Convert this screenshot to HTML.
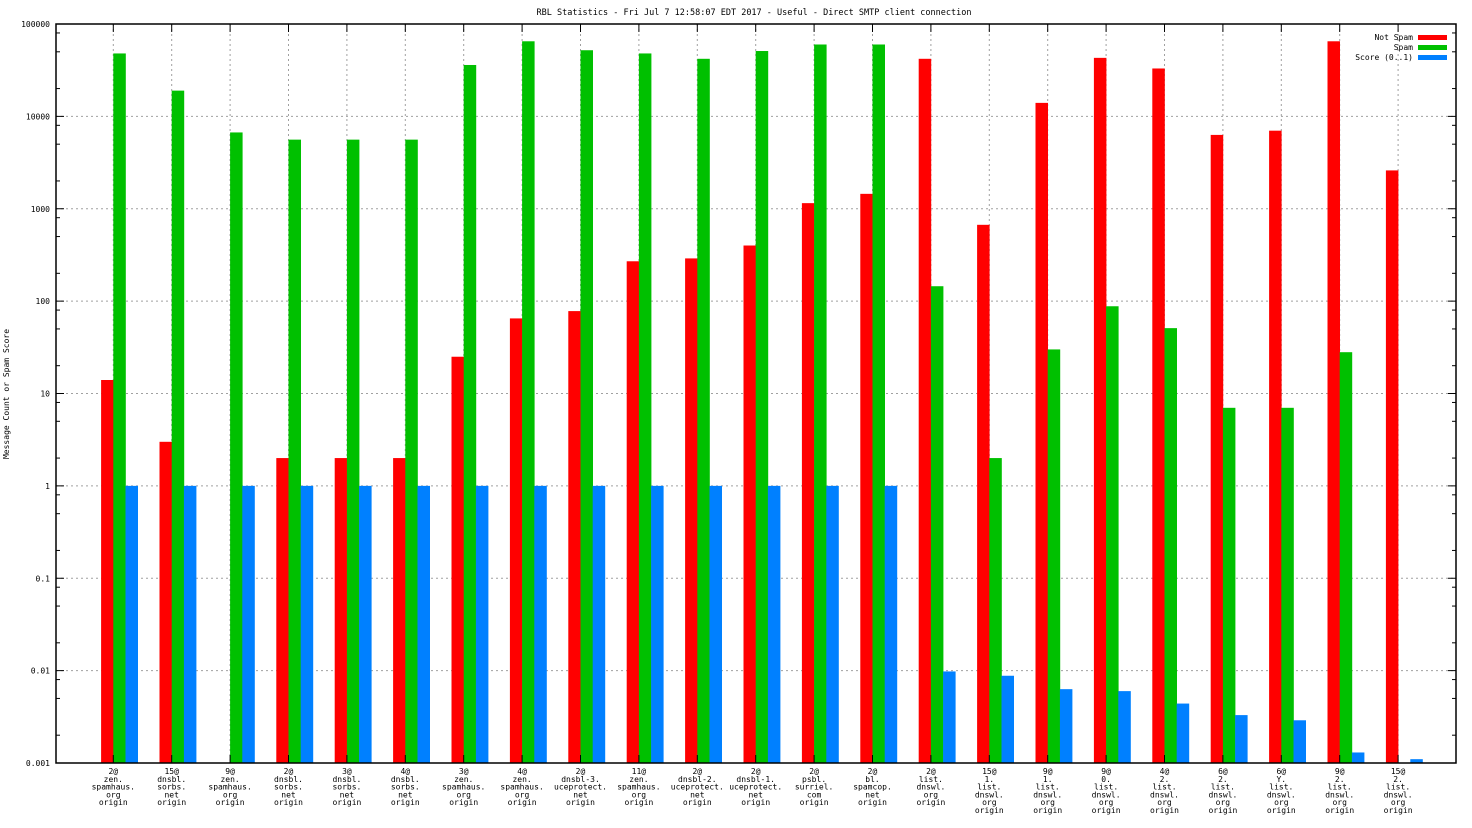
<!DOCTYPE html>
<html><head><meta charset="utf-8"><style>
html,body{margin:0;padding:0;background:#fff;}
svg{display:block;font-family:"DejaVu Sans Mono","Liberation Mono",monospace;}
</style></head><body>
<svg id="chart" width="1472" height="828" viewBox="0 0 1472 828" xmlns="http://www.w3.org/2000/svg">
<text x="754" y="15" font-size="8.5" text-anchor="middle">RBL Statistics - Fri Jul  7 12:58:07 EDT 2017 - Useful - Direct SMTP client connection</text>
<text transform="translate(9,394) rotate(-90)" font-size="8" text-anchor="middle">Message Count or Spam Score</text>
<g id="grid"></g>
<g id="bars"></g>
<g id="axes"></g>
<g font-size="8">
<text x="1413" y="40" text-anchor="end">Not Spam</text>
<rect x="1418" y="35" width="29" height="5" fill="#ff0000"/>
<text x="1413" y="50" text-anchor="end">Spam</text>
<rect x="1418" y="45" width="29" height="5" fill="#00c000"/>
<text x="1413" y="60" text-anchor="end">Score (0..1)</text>
<rect x="1418" y="55" width="29" height="5" fill="#0080ff"/>
</g>
</svg>
<script>
const categories = [
 ["2@","zen.","spamhaus.","org","origin"],
 ["15@","dnsbl.","sorbs.","net","origin"],
 ["9@","zen.","spamhaus.","org","origin"],
 ["2@","dnsbl.","sorbs.","net","origin"],
 ["3@","dnsbl.","sorbs.","net","origin"],
 ["4@","dnsbl.","sorbs.","net","origin"],
 ["3@","zen.","spamhaus.","org","origin"],
 ["4@","zen.","spamhaus.","org","origin"],
 ["2@","dnsbl-3.","uceprotect.","net","origin"],
 ["11@","zen.","spamhaus.","org","origin"],
 ["2@","dnsbl-2.","uceprotect.","net","origin"],
 ["2@","dnsbl-1.","uceprotect.","net","origin"],
 ["2@","psbl.","surriel.","com","origin"],
 ["2@","bl.","spamcop.","net","origin"],
 ["2@","list.","dnswl.","org","origin"],
 ["15@","1.","list.","dnswl.","org","origin"],
 ["9@","1.","list.","dnswl.","org","origin"],
 ["9@","0.","list.","dnswl.","org","origin"],
 ["4@","2.","list.","dnswl.","org","origin"],
 ["6@","2.","list.","dnswl.","org","origin"],
 ["6@","Y.","list.","dnswl.","org","origin"],
 ["9@","2.","list.","dnswl.","org","origin"],
 ["15@","2.","list.","dnswl.","org","origin"]
];
const notSpam = [14,3,null,2,2,2,25,65,78,270,290,400,1150,1450,42000,670,14000,43000,33000,6300,7000,65000,2600];
const spam = [48000,19000,6700,5600,5600,5600,36000,65000,52000,48000,42000,51000,60000,60000,145,2,30,88,51,7,7,28,null];
const score = [1,1,1,1,1,1,1,1,1,1,1,1,1,1,0.0098,0.0088,0.0063,0.006,0.0044,0.0033,0.0029,0.0013,0.0011];
const yTickLabels = ["0.001","0.01","0.1","1","10","100","1000","10000","100000"];

const NS="http://www.w3.org/2000/svg";
const L=56,R=1456,T=24,B=763;
const yMinLog=-3,yMaxLog=5;
function y(v){return B-(Math.log10(v)-yMinLog)/(yMaxLog-yMinLog)*(B-T);}
function x(i){return 113.3+i*58.4;}
const BW=12.2;
function mk(tag,attrs,parent){const e=document.createElementNS(NS,tag);for(const k in attrs)e.setAttribute(k,attrs[k]);parent.appendChild(e);return e;}
const grid=document.getElementById('grid'),bars=document.getElementById('bars'),axes=document.getElementById('axes');
// horizontal grid + y labels
yTickLabels.forEach((lab,k)=>{
  const v=parseFloat(lab), yy=y(v);
  if(k>0&&k<yTickLabels.length-1){const g=mk('line',{x1:L,x2:R,y1:yy,y2:yy,stroke:'#a0a0a0','stroke-width':1,'stroke-dasharray':'2,3'},grid);
  
  }
  const t=mk('text',{x:L-6,y:yy+3,'font-size':8,'text-anchor':'end'},axes);t.textContent=lab;
  
  
  [L,R].forEach((ax,s)=>{const tk=mk('line',{x1:ax,x2:ax+(s?-8:8),y1:yy,y2:yy,stroke:'#000','stroke-width':1},axes);
    
    });
  if(k<yTickLabels.length-1){[2,5,8].forEach(m=>{const my=y(v*m);[L,R].forEach((ax,s)=>{const tk=mk('line',{x1:ax,x2:ax+(s?-4:4),y1:my,y2:my,stroke:'#000','stroke-width':1},axes);
    
    });});}
});
categories.forEach((c,i)=>{
  const xx=x(i);
  const g=mk('line',{x1:xx,x2:xx,y1:T,y2:B,stroke:'#a0a0a0','stroke-width':1,'stroke-dasharray':'2,3'},grid);
  
  
  [[T,T+8],[B,B-8]].forEach(p=>{const tk=mk('line',{x1:xx,x2:xx,y1:p[0],y2:p[1],stroke:'#000','stroke-width':1},axes);
    
    });
  const t=mk('text',{x:xx,y:774,'font-size':8,'text-anchor':'middle'},axes);
  
  
  c.forEach((line,j)=>{const ts=mk('tspan',{x:xx,dy:j?7.8:0},t);ts.textContent=line;});
  [[notSpam,'#ff0000',-BW,'bar-not-spam'],[spam,'#00c000',0,'bar-spam'],[score,'#0080ff',BW,'bar-score']].forEach(s=>{
    const v=s[0][i]; if(v==null||v<=0)return;
    const top=y(v);
    const r=mk('rect',{x:xx+s[2],y:top,width:BW+0.3,height:Math.max(0,B-top),fill:s[1]},bars);
    
    
  });
});
const fr=mk('rect',{x:L,y:T,width:R-L,height:B-T,fill:'none',stroke:'#000','stroke-width':1.5},axes);


</script>
</body></html>
